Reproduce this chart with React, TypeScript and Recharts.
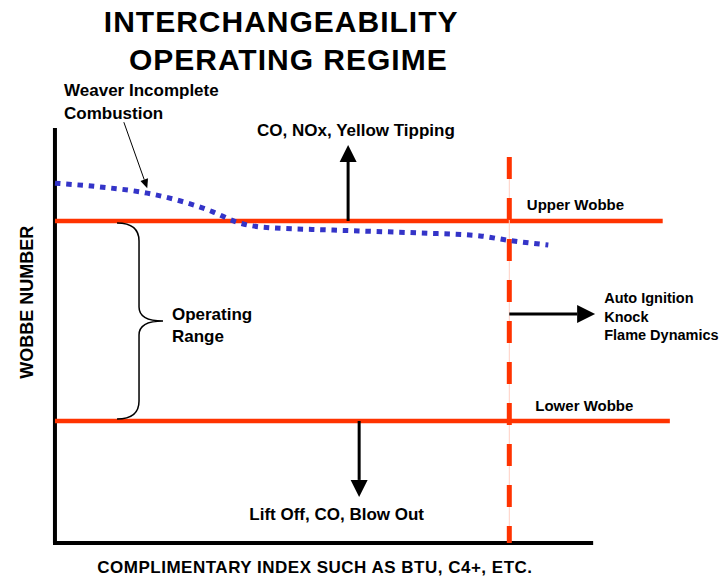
import React from "react";
import {
  ComposedChart,
  Line,
  XAxis,
  YAxis,
  ReferenceLine,
  ReferenceDot,
} from "recharts";

// weaver incomplete combustion curve
const curveX = [0.3, 7.2, 14.5, 24.6, 28.3, 32.3, 43.1, 56.5, 65.7, 69.8, 76.2];
const curveY = [86.7, 85.8, 84.3, 79.8, 77.3, 76.1, 75.4, 74.7, 74.0, 73.0, 71.8];

// wobbe limits and the complimentary index limit
const upperWobbe = 77.6;
const lowerWobbe = 29.4;
const indexLimit = 70.2;
const limitTop = 93.0;
const upperEnd = 93.8;
const lowerEnd = 94.9;
const axisEnd = 83.1;

const curveData = curveX.map((x, i) => ({ x, y: curveY[i] }));

const RED = "#ff3300";
const BLUE = "#3434c8";
const FONT = '"Liberation Sans", Arial, sans-serif';

type Note = {
  x: number;
  y: number;
  lines: string[];
  size: number;
  anchor?: "start" | "middle" | "end";
  spacing?: number;
  rotate?: boolean;
  lineH?: number;
};

const notes: Note[] = [
  { x: 35.1, y: 123.1, lines: ["INTERCHANGEABILITY"], size: 30, anchor: "middle", spacing: 1 },
  { x: 36.2, y: 114.0, lines: ["OPERATING REGIME"], size: 30, anchor: "middle", spacing: 1 },
  { x: 1.7, y: 107.7, lines: ["Weaver Incomplete", "Combustion"], size: 17, lineH: 22.6 },
  { x: 31.4, y: 98.1, lines: ["CO, NOx, Yellow Tipping"], size: 17 },
  { x: 72.9, y: 80.2, lines: ["Upper Wobbe"], size: 15 },
  { x: 74.2, y: 31.8, lines: ["Lower Wobbe"], size: 15 },
  { x: 84.8, y: 57.8, lines: ["Auto Ignition", "Knock", "Flame Dynamics"], size: 14.5, lineH: 18.5 },
  { x: 18.3, y: 53.7, lines: ["Operating", "Range"], size: 17, lineH: 22 },
  { x: 30.2, y: 5.5, lines: ["Lift Off, CO, Blow Out"], size: 17 },
  { x: 40.3, y: -7.2, lines: ["COMPLIMENTARY INDEX SUCH AS BTU, C4+, ETC."], size: 17, anchor: "middle", spacing: 0.5 },
  { x: -3.08, y: 58.0, lines: ["WOBBE NUMBER"], size: 18, anchor: "middle", rotate: true },
];

const arrowShape = (width: number, head: number, headW: number) => (p: any) => {
  const { x1, y1, x2, y2 } = p;
  const dx = x2 - x1;
  const dy = y2 - y1;
  const len = Math.sqrt(dx * dx + dy * dy) || 1;
  const ux = dx / len;
  const uy = dy / len;
  const bx = x2 - ux * head;
  const by = y2 - uy * head;
  const nx = -uy * (headW / 2);
  const ny = ux * (headW / 2);
  return (
    <g>
      <line x1={x1} y1={y1} x2={bx} y2={by} stroke="#000" strokeWidth={width} />
      <polygon
        points={`${x2},${y2} ${bx + nx},${by + ny} ${bx - nx},${by - ny}`}
        fill="#000"
      />
    </g>
  );
};

const braceShape = (p: any) => {
  const { x1, y1, y2 } = p;
  const top = Math.min(y1, y2);
  const bot = Math.max(y1, y2);
  const mid = (top + bot) / 2;
  const d = 22;
  const t = 46;
  const path = `M${x1},${top} Q${x1 + d},${top} ${x1 + d},${top + 18} L${x1 + d},${mid - 14} Q${x1 + d},${mid} ${x1 + t},${mid} Q${x1 + d},${mid} ${x1 + d},${mid + 14} L${x1 + d},${bot - 18} Q${x1 + d},${bot} ${x1},${bot}`;
  return <path d={path} fill="none" stroke="#000" strokeWidth={1.5} />;
};

const noteShape = (n: Note) => (p: any) => {
  const { cx, cy } = p;
  return (
    <text
      x={cx}
      y={cy}
      fontFamily={FONT}
      fontWeight="bold"
      fontSize={n.size}
      fill="#000"
      textAnchor={n.anchor || "start"}
      style={{ letterSpacing: n.spacing || 0 }}
      transform={n.rotate ? `rotate(-90, ${cx}, ${cy})` : undefined}
    >
      {n.lines.map((l, i) => (
        <tspan key={i} x={cx} dy={i === 0 ? 0 : n.lineH || n.size * 1.4}>
          {l}
        </tspan>
      ))}
    </text>
  );
};

export default function App() {
  return (
    <div style={{ position: "absolute", left: 0, top: 0, background: "#fff" }}>
      <ComposedChart
        width={720}
        height={579}
        data={curveData}
        margin={{ top: 128, right: 17, bottom: 36, left: 53 }}
      >
        <XAxis type="number" dataKey="x" domain={[0, 100]} hide allowDataOverflow />
        <YAxis type="number" domain={[0, 100]} hide allowDataOverflow />

        {/* axes */}
        <ReferenceLine
          segment={[{ x: 0.3, y: 0 }, { x: 0.3, y: 100 }]}
          stroke="#000"
          strokeWidth={4}
          ifOverflow="visible"
        />
        <ReferenceLine
          segment={[{ x: 0, y: 0 }, { x: axisEnd, y: 0 }]}
          stroke="#000"
          strokeWidth={4}
          ifOverflow="visible"
        />

        {/* wobbe limits */}
        <ReferenceLine
          segment={[{ x: 0.3, y: upperWobbe }, { x: upperEnd, y: upperWobbe }]}
          stroke={RED}
          strokeWidth={4.5}
          ifOverflow="visible"
        />
        <ReferenceLine
          segment={[{ x: 0.3, y: lowerWobbe }, { x: lowerEnd, y: lowerWobbe }]}
          stroke={RED}
          strokeWidth={4.5}
          ifOverflow="visible"
        />

        {/* index limit */}
        <ReferenceLine
          segment={[{ x: indexLimit, y: limitTop }, { x: indexLimit, y: 0 }]}
          stroke="#ffcfc4"
          strokeWidth={1}
          ifOverflow="visible"
        />
        <ReferenceLine
          segment={[{ x: indexLimit, y: limitTop }, { x: indexLimit, y: 0 }]}
          stroke={RED}
          strokeWidth={5}
          strokeDasharray="22 19"
          ifOverflow="visible"
        />

        <Line
          type="monotone"
          dataKey="y"
          stroke={BLUE}
          strokeWidth={5}
          strokeDasharray="5.5 5.8"
          dot={false}
          activeDot={false}
          isAnimationActive={false}
        />

        {/* arrows */}
        <ReferenceLine
          segment={[{ x: 45.4, y: upperWobbe }, { x: 45.4, y: 95.9 }]}
          shape={arrowShape(3, 17, 17)}
          ifOverflow="visible"
        />
        <ReferenceLine
          segment={[{ x: 47.1, y: lowerWobbe }, { x: 47.1, y: 11.1 }]}
          shape={arrowShape(3, 17, 17)}
          ifOverflow="visible"
        />
        <ReferenceLine
          segment={[{ x: indexLimit, y: 55.2 }, { x: 83.4, y: 55.2 }]}
          shape={arrowShape(3, 18, 18)}
          ifOverflow="visible"
        />
        <ReferenceLine
          segment={[{ x: 10.9, y: 101.4 }, { x: 14.5, y: 85.5 }]}
          shape={arrowShape(1, 9, 8)}
          ifOverflow="visible"
        />

        {/* operating range brace */}
        <ReferenceLine
          segment={[{ x: 9.85, y: 77.1 }, { x: 9.85, y: 29.9 }]}
          shape={braceShape}
          ifOverflow="visible"
        />

        {notes.map((n, i) => (
          <ReferenceDot
            key={i}
            x={n.x}
            y={n.y}
            r={1}
            ifOverflow="visible"
            shape={noteShape(n)}
          />
        ))}
      </ComposedChart>
    </div>
  );
}
